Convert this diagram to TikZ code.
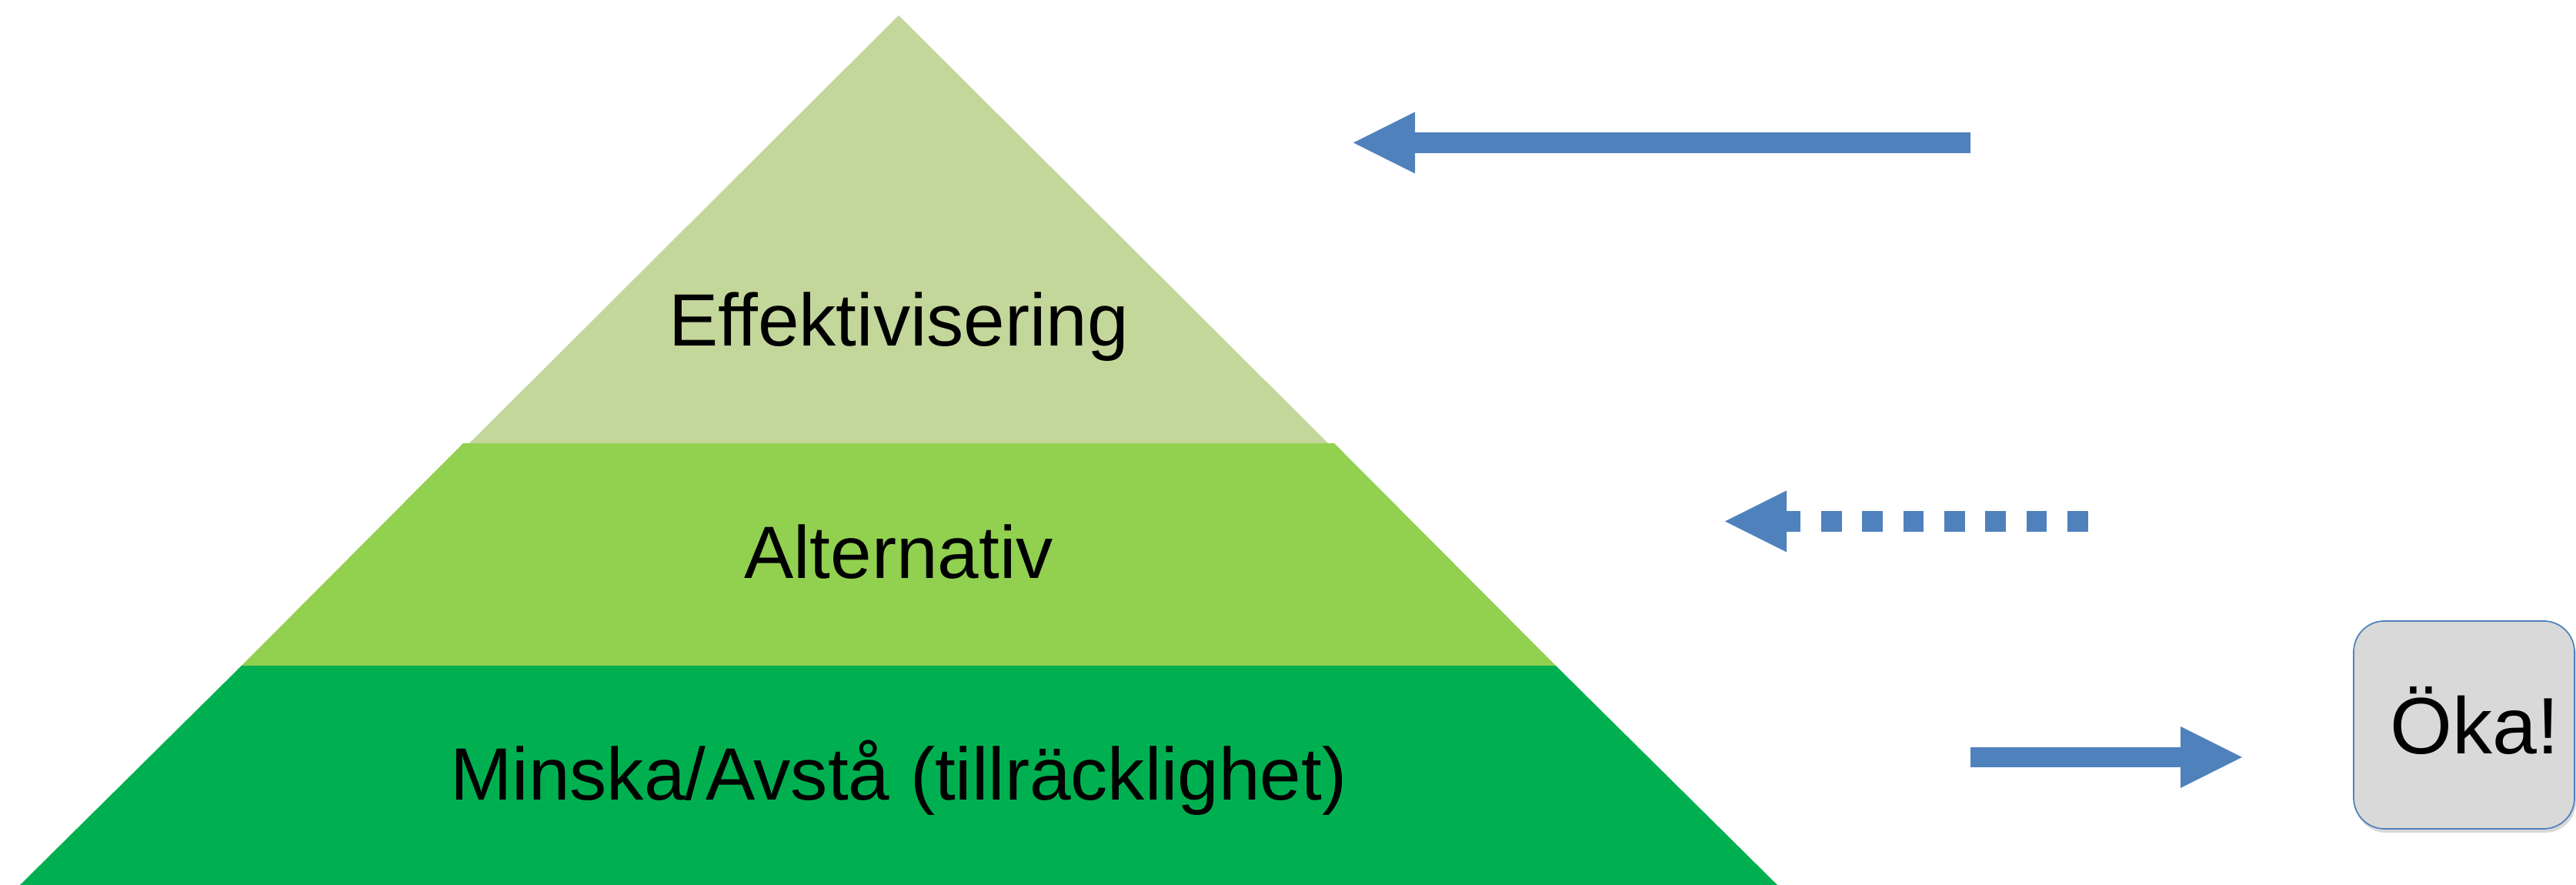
\documentclass[tikz,border=0pt]{standalone}
\usepackage{fontspec}
\setmainfont{Liberation Sans}
\usepackage{xcolor}
\usetikzlibrary{arrows.meta}
\usetikzlibrary{shadows}
\definecolor{vertclair}{HTML}{C4D79B}
\definecolor{vertmoyen}{HTML}{92D050}
\definecolor{vertfonce}{HTML}{00B050}
\definecolor{bleu}{HTML}{4F81BD}
\definecolor{grisclair}{HTML}{D9D9D9}

\begin{document}
\begin{tikzpicture}[
    niveau/.style={font=\fontsize{27.4}{32}\selectfont, anchor=base},
    fleche/.style={bleu, line width=0.27cm, -{Triangle[length=0.8cm, width=0.8cm, line width=0pt]}}
  ]
    \useasboundingbox (0,0) rectangle (33.48,11.5);
    % pyramide
    \fill[vertfonce] (0.26,0) -- (23.10,0) -- (20.22,2.85) -- (3.14,2.85) -- cycle;
    \fill[vertmoyen] (3.14,2.85) -- (20.22,2.85) -- (17.34,5.74) -- (6.02,5.74) -- cycle;
    \fill[vertclair] (6.10,5.74) -- (17.26,5.74) -- (11.68,11.30) -- cycle;
    \node[niveau] (effektiv) at (11.68,7.00) {Effektivisering};
    \node[niveau] (alternativ) at (11.68,3.983) {Alternativ};
    \node[niveau] (minska) at (11.68,1.10) {Minska/Avstå (tillräcklighet)};
    % boîte de droite
    \node[draw=bleu, line width=0.5pt, fill=grisclair, rounded corners=0.4cm,
          minimum width=2.87cm, minimum height=2.70cm,
          font=\fontsize{29.6}{34}\selectfont, text height=0.75cm, text depth=0pt,
          drop shadow={shadow xshift=0.02cm, shadow yshift=-0.05cm, opacity=0.3}]
          (oka) at (32.025,2.08) {\hspace{0.28cm}Öka!};
    % flèches
    \coordinate (haut1) at (25.61,9.645);
    \coordinate (haut2) at (17.59,9.645);
    \draw[fleche] (haut1) -- (haut2);
    \coordinate (milieu1) at (27.135,4.725);
    \coordinate (milieu2) at (22.42,4.725);
    \draw[fleche, dash pattern=on 0.267cm off 0.266cm] (milieu1) -- (milieu2);
    \coordinate (bas1) at (25.61,1.66);
    \coordinate (bas2) at (29.14,1.66);
    \draw[fleche, line width=0.26cm] (bas1) -- (bas2);
\end{tikzpicture}
\end{document}
